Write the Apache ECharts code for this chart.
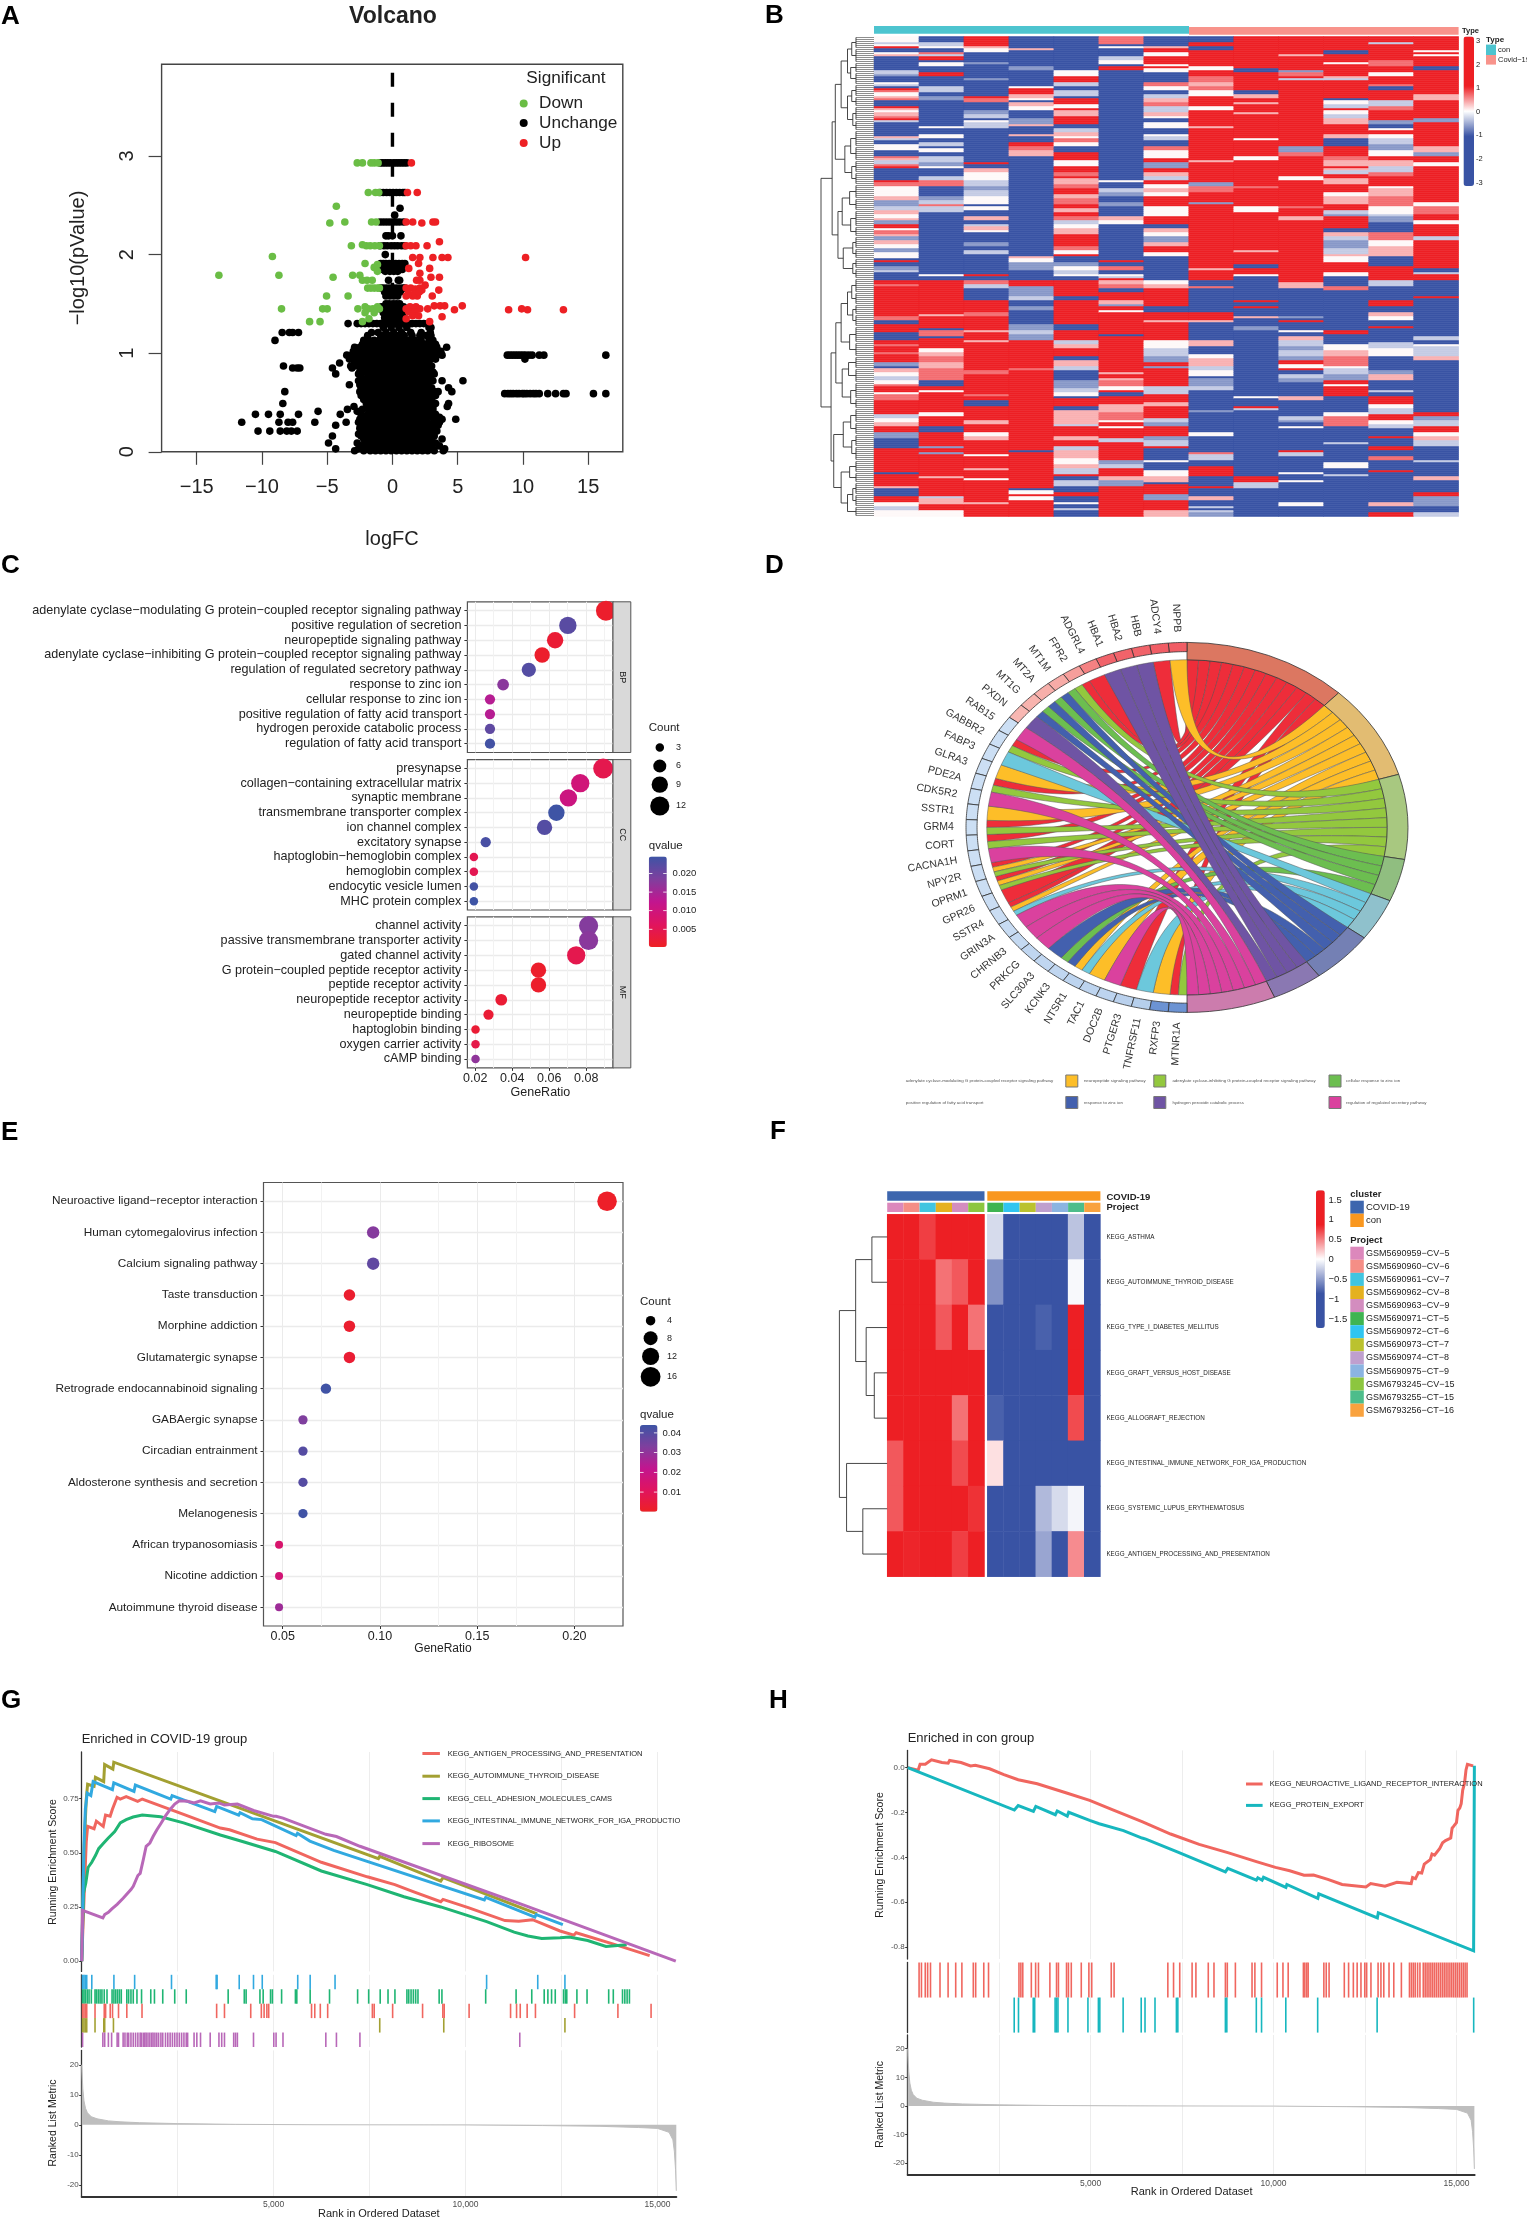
<!DOCTYPE html>
<html>
<head>
<meta charset="utf-8">
<title>Multi-panel figure</title>
<script src="https://cdn.jsdelivr.net/npm/echarts@6/dist/echarts.min.js"></script>
<style>html,body{margin:0;padding:0;background:#fff}#chart{width:1527px;height:2219px}</style>
</head>
<body>
<div id="chart"></div>
<script>
/* ---------------------------- A: volcano ---------------------------- */
var volcanoDown = [[-2.7,2.93],[-2.3,2.93],[-1.65,2.93],[-1.4,2.93],[-1.1,2.93],[-1.85,2.63],[-1.3,2.63],[-1.05,2.63],[-4.3,2.49],[-4.8,2.32],[-3.65,2.33],[-1.6,2.33],[-1.25,2.33],[-3.15,2.09],[-2.3,2.1],[-2,2.09],[-1.7,2.09],[-1.35,2.09],[-1,2.09],[-9.2,1.98],[-2.1,1.91],[-1.15,1.9],[-1.4,1.87],[-1.15,1.83],[-13.3,1.79],[-8.7,1.79],[-4.55,1.77],[-3.05,1.79],[-2.5,1.79],[-2.3,1.74],[-1.95,1.74],[-1.55,1.74],[-1.9,1.66],[-1.65,1.66],[-1.4,1.66],[-1.15,1.66],[-1,1.66],[-5.05,1.58],[-3.4,1.58],[-8.5,1.45],[-5.35,1.45],[-5,1.45],[-2.65,1.45],[-2.1,1.47],[-1.85,1.45],[-1.5,1.45],[-1.15,1.47],[-1,1.45],[-2.1,1.41],[-1.4,1.41],[-6.35,1.32],[-5.55,1.32],[-2.3,1.32],[-1.8,1.35]];
var volcanoUp = [[1.45,2.93],[1.15,2.63],[1.9,2.63],[1.05,2.33],[1.55,2.33],[2.25,2.32],[3.1,2.33],[3.3,2.33],[1.05,2.09],[1.4,2.09],[1.8,2.09],[2.65,2.09],[3.6,2.13],[1.55,1.97],[2.1,1.97],[3.1,1.97],[3.8,1.97],[4.25,1.97],[10.2,1.97],[2,1.91],[1.25,1.86],[2.85,1.86],[2.1,1.81],[2.95,1.77],[3.6,1.77],[1.85,1.74],[2.1,1.74],[1.05,1.66],[1.4,1.66],[1.75,1.65],[2.1,1.66],[2.25,1.64],[2.5,1.69],[3.55,1.64],[1.05,1.58],[1.55,1.58],[1.9,1.58],[3.05,1.58],[1.2,1.6],[1.7,1.61],[2.05,1.62],[1.05,1.45],[1.35,1.47],[1.55,1.45],[1.8,1.47],[2.1,1.45],[2.7,1.45],[3.2,1.48],[3.65,1.48],[4,1.48],[4.75,1.44],[5.35,1.48],[8.9,1.44],[9.9,1.45],[10.35,1.44],[13.1,1.44],[1.25,1.42],[1.7,1.42],[1.05,1.35],[1.55,1.38],[2,1.38],[2.85,1.32],[3.8,1.37]];
// each row: pValue level followed by the logFC readings on that level
var volcanoRows = [
[2.93,-.95,-.75,-.55,-.35,-.15,.1,.3,.5,.7,.9,1.1],[2.63,-.95,-.7,-.45,-.2,.05,.3,.55,.8,.95],[2.47,.58],[2.4,.17],
[2.33,-.95,-.7,-.45,-.2,.05,.3,.55,.85],[2.19,-.5,-.3,0,.65],[2.09,-.95,-.65,-.4,-.1,.15,.4,.7,.95],[2,-.55],
[1.91,-.9,-.7,-.5,-.25,0,.25,.5,.75,.95],[1.88,-.85,-.6,-.35,-.1,.15,.4,.65,.85],[1.85,-.75,-.5,-.25,0,.3,.55,.75],[1.83,-.55,-.2,.1,.4],
[1.74,-.3,.45,.55],[1.66,-.9,-.7,-.45,-.2,.05,.3,.55,.8,.95],[1.62,-.6,-.3,0,.3,.6],[1.58,-.5,-.2,.1,.4],[1.5,-.5,-.25,.05,.3,.55],
[1.47,-.85,-.6,-.35,-.1,.15,.4,.65,.85],[1.45,-.95,-.7,-.45,-.2,.05,.3,.55,.8],[1.41,-.7,-.4,-.1,.2,.5,.75],[1.36,-.6,-.2,.15,.5,.9],
[1.3,-3.4,-2.7,-2.4,-2.1,-1.8,-1.5,-1.2,-.9,-.6,-.3,0,.3,.6,.9,1.2,1.5,1.8,2.1,2.4,2.75],[1.26,-.7,-.1,.5,1.1,2.8,2.95],
[1.21,-8.45,-7.9,-7.65,-7.2,-1.6,-1.1,-.5,.1,.7,1.4,2.2,2.9],[1.18,-1.9,-.9,-.6,-.3,0,.3,.6,.9,1.5,2.1,2.6,2.95],
[1.13,-9,-2.2,-1.8,-1.4,-1,-.6,-.2,.2,.7,1.2,1.7,2.2,2.8,3.1],[1.09,-2.3,-1.9,-1.5,-1.1,-.6,-.1,.4,.9,1.4,1.9,2.4,2.9,3.3],
[1.06,-2.9,-2.5,-2.1,-1.7,-1.3,-.9,-.4,.1,.6,1.1,1.6,2.1,2.6,3,3.4,4.15],[1.02,-3,-2.6,-2.2,-1.7,-1.2,-.7,-.2,.3,.8,1.3,1.8,2.3,2.8,3.2,3.7],
[.98,-3.5,-3.1,-2.6,-2.2,-1.8,-1.4,-1,-.6,-.2,.2,.6,1,1.4,1.8,2.2,2.6,3,3.4,3.8,8.8,9,9.2,9.4,9.6,9.8,10,10.2,10.45,10.7,11.25,11.6,16.35],
[.94,-3.3,-2.8,-2.4,-1.9,-1.5,-1.1,-.7,-.3,.1,.5,.9,1.3,1.7,2.1,2.5,2.9,3.3,10.15],[.9,-4.05,-2.9,-2.4,-2,-1.6,-1.2,-.8,-.4,0,.4,.8,1.2,1.6,2,2.4,2.8],
[.87,-8.35,-3.2,-2.7,-2.1,-1.7,-1.3,-.9,-.5,-.1,.3,.7,1.1,1.5,1.9,2.3,2.7,3],[.85,-7.65,-7.3,-7.1,-4.6,-3.1,-2.4,-1.9,-1.4,-.9,-.4,.1,.6,1.1,1.6,2.1,2.6],
[.81,-2.5,-2.1,-1.8,-1.4,-1,-.6,-.2,.2,.6,1,1.4,1.8,2.2,2.7,3.1],[.79,-4.35,-2.6,-1.6,-.8,0,.8,1.6,2.4,3.2],[.76,-2.4,-1.9,-1.5,-1.1,-.7,-.3,.1,.5,.9,1.3,1.7,2.1,2.5,2.9],
[.72,-2.6,-2.2,-1.7,-1.3,-.9,-.5,-.1,.3,.7,1.1,1.5,1.9,2.3,2.8,3.1,3.8,5.4],[.68,-3.3,-2.5,-2,-1.6,-1.2,-.8,-.4,0,.4,.8,1.2,1.6,2,2.4,2.7],
[.65,-2.4,-1.8,-1.4,-1,-.6,-.2,.2,.6,1,1.4,1.8,2.2,2.6,3,4.3],[.61,-8.25,-2.5,-2.1,-1.7,-1.3,-.9,-.5,-.1,.3,.7,1.1,1.5,1.9,2.3,2.7,3.2,3.5,4.55],
[.59,8.6,8.85,9.05,9.25,9.5,9.7,9.95,10.1,10.3,10.55,10.8,11,11.25,11.9,12.5,13.1,13.3,15.4,16.35],[.57,-2.4,-1.9,-1.5,-1.1,-.7,-.3,.1,.5,.9,1.3,1.7,2.1,2.5,2.8,3.3],
[.53,-2.2,-1.8,-1.4,-1,-.6,-.2,.2,.6,1,1.4,1.8,2.2,2.6,3],[.49,-8.4,-2,-1.6,-1.2,-.8,-.4,0,.4,.8,1.2,1.6,2,2.4,2.9,3.3,4.3],[.46,-2.95,-1.9,-1.5,-1.1,-.7,-.3,.1,.5,.9,1.3,1.7,2.1,2.6,3.1,4.2],
[.43,-3.45,-2.3,-1.8,-1.4,-1,-.6,-.2,.2,.6,1,1.4,1.8,2.2,2.7,3.1],[.41,-5.7,-2.7,-1.7,-1.2,-.8,-.4,0,.4,.8,1.2,1.6,2,2.5,3],
[.38,-10.5,-9.5,-8.6,-7.2,-4,-2.4,-1.9,-1.5,-1.1,-.7,-.3,.1,.5,.9,1.3,1.7,2.1,2.5,2.9,3.3],[.35,-2.2,-1.8,-1.4,-1,-.6,-.2,.2,.6,1,1.4,1.8,2.2,2.6,3.1,3.6],
[.33,-2.5,-1.9,-1.5,-1.1,-.7,-.3,.1,.5,.9,1.3,1.7,2.1,2.5,3.2,3.8,4.85],[.3,-11.55,-8.7,-8,-7.65,-5.95,-3.55,-2.6,-2.1,-1.7,-1.3,-.9,-.5,-.1,.3,.7,1.1,1.5,1.9,2.3,2.7,3.2,3.6],
[.27,-4.35,-2.3,-1.9,-1.4,-1,-.6,-.2,.2,.6,1,1.4,1.8,2.2,2.6,3,3.5],[.24,-2.5,-2,-1.6,-1.2,-.8,-.4,0,.4,.8,1.2,1.6,2,2.4,2.8,3.3],
[.21,-10.3,-9.4,-8.6,-8.1,-7.75,-7.3,-2.4,-1.9,-1.5,-1.1,-.7,-.3,.1,.5,.9,1.3,1.7,2.1,2.5,2.9,3.4],[.18,-2.6,-2.1,-1.7,-1.3,-.9,-.5,-.1,.3,.7,1.1,1.5,1.9,2.3,2.7,3],
[.16,-4.6,-2.4,-1.9,-1.4,-1,-.6,-.2,.2,.6,1,1.4,1.8,2.2,2.7,3.2],[.13,-2.2,-1.8,-1.4,-1,-.6,-.2,.2,.6,1,1.4,1.8,2.2,2.6,3,3.8],
[.09,-4.9,-2.7,-2.1,-1.7,-1.3,-.9,-.5,-.1,.3,.7,1.1,1.5,1.9,2.3,2.8,3.3],[.06,-2.4,-1.9,-1.5,-1.1,-.7,-.3,.1,.5,.9,1.3,1.7,2.1,2.5,2.9,3.6],
[.03,-4.35,-2.6,-2,-1.6,-1.2,-.8,-.4,0,.4,.8,1.2,1.6,2,2.4,2.9,3.1,4],[.01,-2.9,-2.2,-1.7,-1.3,-.9,-.5,-.1,.3,.7,1.1,1.5,1.9,2.3,2.7,3.2,3.9]
];
var volcanoLine = [[0,0],[0,3.87]];
var volcanoXTicks = [-15,-10,-5,0,5,10,15];
var volcanoYTicks = [0,1,2,3];

/* ---------------------------- B: gene heatmap ---------------------------- */
// one string per sample, runs written as <end of run><level>. L/M/B are blues, W white, P/S/R reds
var heatLevels = {B:-2,M:-.6,L:-.3,W:.03,P:.35,S:.65,R:2};
var heatUpper = [
"5W 12L 15W 22R 35B 38R 44W 50P 90B 100L 110M 128B 134W 140L 145B 150R 158S 165W 172P 180S 195B 202R 210P 218W 225P 235S 242R 248L 285B 292P 300L 312B 328W 345B 352S 360P 370L 378S 385R 420B 428R 440S 470W 480P 495M 510L 520P 532W 540P 550M 565R 572W 580S 590P 600M 612P 625W 635M 652W 660B 668R 680B 690M 698L 718B 733R 737S 825R 840S 850B 878R 900B 912R 920S 935R 940S 965R 975M 985B 995P 1005W 1020L 1030W 1040S 1050R 1056W 1080R",
"5B 8R 15L 22W 35B 42S 50L 57R 68B 78W 95B 110R 140B 155L 170B 178M 258B 262W 282B 295W 305B 315L 322B 333W 345B 365L 378M 383W 405B 420L 437S 470B 482M 490L 500S 515L 700B 706W 718B 820R 825P 862R 870B 885S 892B 925R 935W 950P 965S 985P 1018S 1035B 1050R 1058W 1080R",
"15R 25P 35W 65B 70M 112B 118M 165B 172R 185S 212B 222M 232L 242B 248W 262L 365B 372R 385B 395P 405W 410P 420W 440L 450M 470L 490W 500B 512W 528B 540P 550B 558L 568P 578W 608B 615M 628B 640L 700B 707R 718B 730S 745L 778B 815R 825S 868R 875P 900R 907P 990R 1000S 1005R 1010S 1080R",
"25B 32P 80B 88M 138B 145W 160R 172P 180W 188B 200P 210W 235B 250M 258P 280B 287P 305B 318R 330S 345P 645B 655P 665W 690M 718B 735R 770M 780L 800B 810M 850B 870M 880L 900M 945R 950S 985R 992S 1080R",
"90B 105W 125R 135L 140W 150B 165L 175B 190R 205W 212R 225P 250R 262B 275L 285P 295W 305S 318W 335B 358R 375W 395R 405S 415R 430P 445S 460R 475P 490S 505R 515P 530R 540S 552L 565W 580P 615R 628S 640W 650R 665B 680M 690W 700L 708W 718B 770R 778B 850R 870B 900R 912L 925P 945R 960B 975P 990L 1020B 1045M 1060L 1070B 1080S",
"10S 18B 25W 45B 58L 70W 80B 88R 420B 428W 445B 458L 470M 485B 495M 525B 540P 550W 660B 668R 680B 688S 700B 708W 715L 722R 730P 745S 755B 782R 790P 800M 808R 815W 880R 886B 945R 950M 993R 1000P 1012R 1022P 1035S 1052W 1065R 1080B",
"15B 25P 35R 45W 70R 76W 85R 95W 125B 138S 150W 162B 175L 188P 200S 215L 225P 235W 248B 262W 280B 290W 300L 318B 332S 352W 368R 385M 398R 405P 420L 432R 445W 458P 470W 495R 530W 550R 562B 575P 590W 605M 620P 638R 650W 718B 732W 745P 795R 815B 838R 848P 900R 925W 950L 965M 975R 985M 1040R 1052L 1062R 1080P",
"5B 20R 28B 80R 90W 108R 125S 140P 150S 165W 200R 212W 260R 266P 360R 366P 425R 440M 455S 485R 492M 685R 692P 718R 735B 742S 815B 838R 848P 902B 915P 940B 955W 975P 990L 1005W 1015B 1040M 1060L 1080B",
"15R 20P 82R 86W 98B 150R 160B 172P 185R 190P 215R 222P 262R 265S 292R 298W 347R 358W 405R 410S 438R 443S 500R 515W 632R 638P 670R 682B 703R 708W 780B 785R 800B 806R 825B 835P 860B 870M 1068B 1075W 1080B",
"40R 50P 90R 98M 105S 112R 122L 135R 140P 285R 290S 318R 335M 350S 405R 418W 495R 503S 530R 540P 728R 745P 825B 832M 840B 845R 870B 878W 890B 902P 915L 930M 945L 960M 970R 982W 990R 1000B 1012L 1025M 1065B 1080W",
"28R 40B 65R 72W 105R 112P 120L 175R 180B 192W 205L 212R 220W 235L 250P 282R 295P 318B 345R 360S 375P 385R 392P 400L 415R 430P 455R 470W 490P 510R 520L 530M 565R 575B 588P 600L 625M 640L 650P 665W 695R 708W 740B 748S 870B 880R 910B 930W 945P 975S 985W 1000L 1020M 1030R 1040W 1065R 1080B",
"5R 12L 60R 75S 98R 110W 130R 140S 152B 180R 195L 210S 238R 250M 262B 272W 282R 295W 310L 330M 345W 360R 378P 395L 410S 435R 445W 470P 495S 520W 530L 545M 575B 600S 620W 650P 680B 722R 735L 765B 770R 780B 798R 815B 830P 840W 855B 862R 905B 925L 945W 990B 1000M 1018P 1080B",
"28R 35W 42R 50W 80R 88B 160R 178P 235R 245M 315R 335P 345M 368R 375W 485R 498W 520S 540R 550W 590R 600L 682R 695B 702L 718R 770B 775R 890B 900L 910B 920W 945L 960P 1080B"
];
var heatLower = [
"8R 12W 28S 70R 82L 95W 105P 128R 145M 175B 245R 252B 285R 292P 315B 335R 345W 362L 378W",
"5W 45R 50P 68R 78W 105R 128B 165R 172M 185R 190M 258R 262P 315R 322L 342P 360R 378W",
"12R 18S 28R 45B 88R 100P 125R 140W 150P 190R 198W 235R 240P 262R 268W 285R 290S 335R 340P 378R",
"180R 186B 292R 300B 310W 320R 328W 378R",
"5L 15W 25B 50R 60B 100P 108L 135R 150P 165R 180L 205P 220W 235P 250L 260R 272B 288L 305B 318R 338B 344W 356B 362L 378B",
"5R 18B 40R 65P 90S 95W 108R 115W 145R 155L 208R 222M 235L 255R 270P 285M 378R",
"12L 38R 50P 85R 95L 105M 135R 150M 165L 175R 208B 215W 240B 258W 275P 282B 310R 330M 360R 378P",
"62B 68M 105B 110W 128B 135W 185B 192S 210L 230B 258R 285B 295R 318B 330P 345B 352L 358B 365L 378M",
"20B 25W 48B 54R 58L 258B 275R 295L 378B",
"15B 30P 80B 88L 95M 105B 112W 178B 188R 195L 245B 252W 272B 278W 335B 345W 378B",
"15R 68B 78W 105S 155B 162L 218B 232W 250B 258L 378B",
"8L 20B 40R 55W 70L 90R 103W 115L 140B 145R 165B 178R 195B 208S 240B 248R 335B 350P 368B 378R",
"65B 75R 90M 110L 125R 138W 150P 170L 210B 215L 260B 272P 305B 320R 345M 365B 378L"
];
// dendrogram merges: [height, childA, childB]; a bare number is a cluster of that many rows
var heatTree = [1,
 [.79,[.73,[.62,[.5,[.42,6,7],[.44,5,6]],[.5,[.42,6,5],[.4,7,5]]],[.55,[.44,8,7],[.42,6,6]]],[.68,[.6,[.46,7,6],[.44,8,5]],[.58,[.4,6,5],[.4,5,5]]]],
 [.81,[.72,[.62,[.5,[.42,7,6],[.4,5,6]],[.46,8,7]],[.6,[.48,6,7],[.44,8,5]]],[.76,[.58,[.44,7,6],[.42,6,7]],[.62,[.46,6,5],[.5,[.4,6,6],5]]]]
];

/* ---------------------------- C: GO dot plot ---------------------------- */
var goFacets = ['BP','CC','MF'];
var goTerms = [
 ['adenylate cyclase\u2212modulating G protein\u2212coupled receptor signaling pathway','positive regulation of secretion','neuropeptide signaling pathway','adenylate cyclase\u2212inhibiting G protein\u2212coupled receptor signaling pathway','regulation of regulated secretory pathway','response to zinc ion','cellular response to zinc ion','positive regulation of fatty acid transport','hydrogen peroxide catabolic process','regulation of fatty acid transport'],
 ['presynapse','collagen\u2212containing extracellular matrix','synaptic membrane','transmembrane transporter complex','ion channel complex','excitatory synapse','haptoglobin\u2212hemoglobin complex','hemoglobin complex','endocytic vesicle lumen','MHC protein complex'],
 ['channel activity','passive transmembrane transporter activity','gated channel activity','G protein\u2212coupled peptide receptor activity','peptide receptor activity','neuropeptide receptor activity','neuropeptide binding','haptoglobin binding','oxygen carrier activity','cAMP binding']
];
var goRatio = [[.0907,.0701,.0632,.0562,.049,.0351,.028,.028,.028,.028],[.0892,.0768,.0704,.0639,.0575,.0257,.0193,.0193,.0193,.0193],[.0813,.0813,.0746,.0542,.0542,.0341,.0272,.0202,.0202,.0202]];
var goQvalue = [[.001,.022,.002,.001,.0225,.0175,.0135,.0135,.0215,.024],[.0045,.0095,.0105,.0245,.0225,.0235,.005,.005,.024,.0245],[.018,.0175,.0045,.001,.001,.002,.002,.002,.004,.017]];
var goCount = [[13,10,9,8,7,5,4,4,4,4],[13,11,10,9,8,4,3,3,3,3],[12,12,11,8,8,5,4,3,3,3]];
var goXTicks = [.02,.04,.06,.08];
var goXMinor = [.03,.05,.07,.09];
var goCountLegend = [3,6,9,12];
var goQTicks = [.02,.015,.01,.005];

/* ---------------------------- D: GO chord ---------------------------- */
var chordGenes = ['NPPB','ADCY4','HBB','HBA2','HBA1','ADGRL4','FPR2','MT1M','MT2A','MT1G','PXDN','RAB15','GABBR2','FABP3','GLRA3','PDE2A','CDK5R2','SSTR1','GRM4','CORT','CACNA1H','NPY2R','OPRM1','GPR26','SSTR4','GRIN3A','CHRNB3','PRKCG','SLC30A3','KCNK3','NTSR1','TAC1','DOC2B','PTGER3','TNFRSF11','RXFP3','MTNR1A'];
var chordLogFC = [3.5,3.5,3.4,3.4,3.4,2.9,2.3,2,1.9,1.8,1.7,-1.2,-1.2,-1.2,-1.2,-1.2,-1.2,-1.2,-1.2,-1.2,-1.2,-1.25,-1.25,-1.3,-1.3,-1.4,-1.5,-1.6,-1.6,-1.6,-1.7,-1.7,-1.7,-1.8,-1.9,-3.7,-3.7];
var chordTerms = ['adenylate cyclase-modulating G protein-coupled receptor signaling pathway','neuropeptide signaling pathway','adenylate cyclase-inhibiting G protein-coupled receptor signaling pathway','cellular response to zinc ion','positive regulation of fatty acid transport','response to zinc ion','hydrogen peroxide catabolic process','regulation of regulated secretory pathway'];
var chordTermGenes = [
 ['ADCY4','ADGRL4','FPR2','GABBR2','PDE2A','GRM4','CORT','NPY2R','OPRM1','GPR26','SSTR4','PTGER3','MTNR1A'],
 ['NPPB','GLRA3','SSTR1','NPY2R','OPRM1','SSTR4','NTSR1','TAC1','RXFP3'],
 ['FPR2','GABBR2','PDE2A','GRM4','CORT','NPY2R','OPRM1','MTNR1A'],
 ['MT1M','MT2A','MT1G','KCNK3'],
 ['FABP3','SSTR4','NTSR1','TNFRSF11'],
 ['MT1M','MT2A','MT1G','SLC30A3','KCNK3'],
 ['HBB','HBA2','HBA1','PXDN'],
 ['RAB15','CDK5R2','CACNA1H','GRIN3A','CHRNB3','PRKCG','DOC2B']
];

/* ---------------------------- E: KEGG dot plot ---------------------------- */
var keggTerms = ['Neuroactive ligand\u2212receptor interaction','Human cytomegalovirus infection','Calcium signaling pathway','Taste transduction','Morphine addiction','Glutamatergic synapse','Retrograde endocannabinoid signaling','GABAergic synapse','Circadian entrainment','Aldosterone synthesis and secretion','Melanogenesis','African trypanosomiasis','Nicotine addiction','Autoimmune thyroid disease'];
var keggRatio = [.2168,.0965,.0965,.0843,.0843,.0843,.0722,.0604,.0604,.0604,.0604,.0481,.0481,.0481];
var keggQvalue = [.001,.032,.038,.002,.002,.003,.0435,.033,.04,.04,.0435,.014,.016,.028];
var keggCount = [18,8,8,7,7,7,6,5,5,5,5,4,4,4];
var keggXTicks = [.05,.1,.15,.2];
var keggXMinor = [.075,.125,.175];
var keggCountLegend = [4,8,12,16];
var keggQTicks = [.04,.03,.02,.01];

/* ---------------------------- F: GSVA heatmap ---------------------------- */
var gsvaPathways = ['KEGG_ASTHMA','KEGG_AUTOIMMUNE_THYROID_DISEASE','KEGG_TYPE_I_DIABETES_MELLITUS','KEGG_GRAFT_VERSUS_HOST_DISEASE','KEGG_ALLOGRAFT_REJECTION','KEGG_INTESTINAL_IMMUNE_NETWORK_FOR_IGA_PRODUCTION','KEGG_SYSTEMIC_LUPUS_ERYTHEMATOSUS','KEGG_ANTIGEN_PROCESSING_AND_PRESENTATION'];
var gsvaCovid = [[1.5,1.5,.75,.9,1.5,1.5],[1.5,1.5,1,.55,.65,1.5],[1.5,1.5,1.5,.65,1.2,.55],[1.5,1.5,1.5,1.5,1.1,1.5],[1.5,1.5,1.5,1.5,.55,1.5],[.65,1.5,1.5,1.5,.7,1.5],[.65,1.1,1.5,1.5,1.1,.8],[1.5,.85,1.05,1.5,.75,1.5]];
var gsvaCon = [[-.18,-1.5,-1.5,-1.5,-1.5,-.3,-1.5],[-.55,-1.5,-1.5,-1.5,-1.5,-.03,-1.5],[-1.5,-1,-1.5,-.8,-1.5,1,-1.5],[-1,-1.5,-1.5,-1.5,-1.5,1.5,-1.5],[-.8,-1.5,-1.5,-1.5,-1.5,.7,-1.5],[.12,-1.5,-1.1,-1.2,-1.5,-1.5,-1.5],[-1.5,-1.5,-1.5,-.35,-.18,-.05,-1.5],[-1.5,-1.2,-1.5,-.45,-1.5,.45,-1.5]];
var gsvaTree = [1,[.66,[.32,1,1],[.44,1,[.27,1,1]]],[.85,1,[.51,1,1]]];
var gsvaProjects = ['GSM5690959\u2212CV\u22125','GSM5690960\u2212CV\u22126','GSM5690961\u2212CV\u22127','GSM5690962\u2212CV\u22128','GSM5690963\u2212CV\u22129','GSM5690971\u2212CT\u22125','GSM5690972\u2212CT\u22126','GSM5690973\u2212CT\u22127','GSM5690974\u2212CT\u22128','GSM5690975\u2212CT\u22129','GSM6793245\u2212CV\u221215','GSM6793255\u2212CT\u221215','GSM6793256\u2212CT\u221216'];
var gsvaProjectColors = ['#DC88BC','#F58E86','#41C5E0','#E5B120','#D38DBF','#3FB451','#30C5F0','#BBC22E','#BF9FCE','#8BB4E1','#8CC63F','#4DBD8B','#F9A23E'];
var gsvaCovidOrder = [0,1,2,3,4,10];
var gsvaConOrder = [5,6,7,8,9,11,12];
var gsvaTicks = [1.5,1,.5,0,-.5,-1,-1.5];

/* ---------------------------- G: GSEA COVID-19 ---------------------------- */
var gseaRed = [[1,0],[60,.282],[120,.551],[155,.622],[323,.611],[383,.646],[562,.622],[622,.674],[742,.669],[801,.701],[921,.756],[1005,.748],[1160,.759],[1459,.737],[1579,.748],[2655,.677],[3612,.614],[3851,.606],[4569,.563],[5047,.547],[6243,.456],[7439,.389],[8157,.353],[8635,.321],[9353,.274],[9413,.285],[10070,.247],[11027,.187],[11386,.184],[11745,.191],[12462,.139],[12821,.12],[12881,.131],[13897,.076],[14795,.025]];
var gseaOlive = [[1,0],[60,.503],[120,.748],[155,.816],[323,.807],[359,.848],[574,.828],[598,.907],[813,.886],[837,.918],[2655,.801],[5047,.646],[7730,.473],[7764,.483],[9353,.369],[9413,.385],[11864,.218]];
var gseaBlue = [[1,0],[60,.535],[96,.701],[144,.775],[239,.764],[299,.828],[801,.791],[837,.823],[1363,.783],[1399,.812],[2320,.748],[2356,.764],[3468,.69],[3516,.714],[4090,.674],[4126,.685],[4449,.657],[4688,.653],[5585,.579],[5621,.59],[5944,.554],[5980,.563],[6566,.511],[6602,.519],[10489,.282],[10525,.294],[11805,.203],[11840,.215],[12534,.168]];
var gseaGreen = [[1,0],[48,.313],[108,.361],[167,.432],[263,.456],[359,.487],[443,.519],[562,.543],[682,.566],[861,.598],[1005,.638],[1160,.653],[1340,.665],[1579,.674],[2057,.666],[2655,.638],[3612,.582],[4210,.551],[5047,.506],[6243,.416],[7439,.353],[8396,.297],[9353,.25],[10549,.182],[11266,.134],[11625,.116],[11984,.104],[12462,.108],[12701,.111],[13180,.095],[13658,.068],[14197,.076]];
var gseaPurple = [[1,0],[24,.234],[552,.199],[600,.215],[696,.225],[780,.24],[924,.262],[960,.258],[1080,.29],[1128,.285],[1284,.33],[1344,.345],[1464,.395],[1524,.405],[1608,.47],[1680,.53],[1776,.545],[1860,.575],[1956,.605],[2064,.635],[2184,.67],[2304,.7],[2424,.725],[2544,.74],[2760,.738],[2928,.73],[3096,.74],[3348,.725],[3576,.73],[3720,.72],[4056,.725],[4476,.695],[5004,.668],[5064,.668],[5244,.66],[6360,.585],[6636,.575],[7248,.53],[11412,.265],[15476,0]];
var gseaHitsBlue = [24,60,96,132,264,840,1380,2340,3504,3528,4104,4476,4704,5628,5952,6600,10548,11880,12588];
var gseaHitsGreen = [24,60,96,144,192,252,348,384,432,480,528,588,660,792,840,888,936,984,1032,1176,1224,1284,1344,1440,1560,1800,1896,2112,2424,2724,3816,4236,4284,4644,4728,4920,4968,5208,5568,5604,5952,6456,7188,7476,7776,7980,8160,8472,8520,8580,8640,8700,8760,9312,9384,10524,11316,11724,12048,12144,12240,12336,12552,12600,12636,12900,13164,13728,13848,14088,14148,14208,14268];
var gseaHitsRed = [24,60,96,132,348,588,624,744,804,960,1176,1572,3516,3720,4404,4680,4752,4824,4872,5988,6072,6216,6408,7572,7620,8100,8880,9408,9444,10092,11172,11328,11424,11604,11820,12840,13968,14832];
var gseaHitsOlive = [24,60,96,132,348,576,600,828,7764,9432,12588];
var gseaHitsPurple = [24,552,600,696,780,924,960,1080,1128,1188,1224,1284,1344,1404,1464,1524,1560,1608,1644,1680,1728,1776,1824,1860,1908,1956,2004,2064,2112,2184,2244,2304,2364,2424,2484,2544,2604,2664,2724,2760,2928,3000,3096,3348,3576,3648,3720,3960,4008,4056,4476,5004,5064,5244,6360,6636,7248,11412];
var rankedMetric = [[1,20],[30,12],[60,8],[100,5.5],[150,4],[250,2.7],[400,2],[700,1.3],[1000,1],[1500,.7],[2500,.4],[4000,.15],[6000,.03],[7500,0],[10000,-.05],[12000,-.25],[13500,-.5],[14500,-.9],[15000,-1.2],[15300,-2.5],[15400,-5],[15440,-9],[15470,-15],[15489,-22]];
var gseaNamesG = ['KEGG_ANTIGEN_PROCESSING_AND_PRESENTATION','KEGG_AUTOIMMUNE_THYROID_DISEASE','KEGG_CELL_ADHESION_MOLECULES_CAMS','KEGG_INTESTINAL_IMMUNE_NETWORK_FOR_IGA_PRODUCTIO','KEGG_RIBOSOME'];

/* ---------------------------- H: GSEA con ---------------------------- */
var gseaNeuro = [[1,0],[286,-.011],[339,.015],[482,.015],[651,.035],[937,.023],[1107,.02],[1146,.032],[1458,.023],[1719,.008],[1849,.011],[2239,-.005],[2630,-.031],[3021,-.054],[3541,-.072],[4323,-.112],[4974,-.146],[5625,-.189],[6406,-.241],[7187,-.296],[7968,-.342],[8749,-.379],[9531,-.419],[10051,-.445],[10442,-.46],[10833,-.48],[11093,-.479],[11484,-.498],[11874,-.521],[12525,-.532],[12655,-.517],[13046,-.529],[13372,-.511],[13762,-.517],[13800,-.49],[13880,-.495],[13957,-.468],[14050,-.47],[14120,-.43],[14283,-.41],[14330,-.385],[14400,-.39],[14543,-.36],[14620,-.335],[14700,-.325],[14843,-.314],[14880,-.27],[14930,-.26],[14999,-.245],[15040,-.19],[15090,-.18],[15129,-.161],[15170,-.1],[15220,-.069],[15260,-.01],[15299,.015],[15455,.008]];
var gseaExport = [[1,0],[2916,-.189],[3021,-.169],[3437,-.195],[3502,-.173],[4036,-.21],[4088,-.193],[4362,-.216],[4401,-.199],[4974,-.235],[5234,-.25],[5273,-.242],[5898,-.281],[6406,-.314],[6510,-.319],[7369,-.376],[7421,-.373],[8684,-.465],[8749,-.449],[9531,-.502],[9570,-.491],[9687,-.502],[9726,-.489],[10338,-.534],[10364,-.521],[11210,-.583],[11236,-.563],[12838,-.67],[12864,-.647],[15468,-.817],[15489,.008]];
var gseaHitsNeuro = [312,377,481,546,624,884,1105,1313,1482,1794,1859,2080,2210,3042,3094,3146,3380,3497,3575,3887,4069,4121,4342,4394,4472,4745,4953,5031,5564,5642,7111,7267,7436,7774,7878,8216,8372,8684,8736,8957,9412,9490,9672,10101,10257,10400,10816,10855,10907,10946,11375,11440,11518,11934,12051,12181,12285,12389,12493,12545,12662,12857,12935,13013,13156,13286,13494,13715,13767,13819,13871,13936,14001,14092,14144,14196,14248,14300,14352,14404,14456,14508,14560,14612,14664,14716,14768,14820,14872,14924,14976,15028,15080,15132,15184,15236,15288];
var gseaHitsExport = [2912,3029,3432,3471,4030,4069,4108,4381,4927,5213,5252,5889,6383,6487,6760,7345,7384,8684,8723,9529,9672,10335,11206,12831,15470];
var gseaNamesH = ['KEGG_NEUROACTIVE_LIGAND_RECEPTOR_INTERACTION','KEGG_PROTEIN_EXPORT'];

/* ---------------------------- build ---------------------------- */
var FONT = 'Liberation Sans';
var INK = '#222';
var grids = [], xAxes = [], yAxes = [], series = [], visualMaps = [], shapes = [];

function txt(x, y, text, size, opt) {
  opt = opt || {};
  shapes.push({type:'text', x:x, y:y, rotation:opt.rotate || 0, silent:true, z:20, style:{text:text, fill:opt.color || INK, fontFamily:FONT, fontSize:size, fontWeight:opt.bold ? 'bold' : 'normal', align:opt.align || 'left', verticalAlign:'middle'}});
}
function rect(x, y, w, h, color, stroke) {
  shapes.push({type:'rect', silent:true, z:18, shape:{x:x, y:y, width:w, height:h}, style:{fill:color, stroke:stroke || null, lineWidth:stroke ? 1 : 0}});
}
function dot(x, y, d, color) {
  shapes.push({type:'circle', silent:true, z:18, shape:{cx:x, cy:y, r:d / 2}, style:{fill:color}});
}
function axisOf(gridIndex, min, max, extra) {
  var base = {type:'value', gridIndex:gridIndex, min:min, max:max, axisLine:{show:false, onZero:false}, axisTick:{show:false}, axisLabel:{show:false}, splitLine:{show:false}};
  return Object.assign(base, extra || {});
}
function addGrid(l, t, r, b, xAxis, yAxis, frame) {
  var i = grids.length;
  var g = {left:l, top:t, width:r - l, height:b - t};
  if (frame) { g.show = true; g.borderColor = frame.color; g.borderWidth = frame.width; g.backgroundColor = 'transparent'; }
  grids.push(g);
  xAxis.gridIndex = i; yAxis.gridIndex = i;
  xAxes.push(xAxis); yAxes.push(yAxis);
  return i;
}
function plain(min, max, extra) { return axisOf(0, min, max, extra); }

function segmentItem(params, api) {
  var a = api.coord([api.value(0), api.value(1)]), b = api.coord([api.value(2), api.value(3)]);
  return {type:'line', shape:{x1:a[0], y1:a[1], x2:b[0], y2:b[1]}, style:{stroke:api.value(4) ? '#8e8e8e' : '#333', lineWidth:api.value(4) ? 1 : 0.9}};
}
function treeSegments(tree, leafHeight) {
  var segs = [], next = 0;
  function walk(node) {
    if (typeof node === 'number') {
      var start = next; next += node;
      for (var r = start; r < next; r++) { segs.push([leafHeight, r + .5, 0, r + .5, leafHeight ? 1 : 0]); }
      if (node > 1) { segs.push([leafHeight, start + .5, leafHeight, next - .5, 0]); }
      return {y:(start + next) / 2, h:leafHeight};
    }
    var a = walk(node[1]), b = walk(node[2]);
    segs.push([node[0], a.y, node[0], b.y, 0]);
    segs.push([node[0], a.y, a.h, a.y, 0]);
    segs.push([node[0], b.y, b.h, b.y, 0]);
    return {y:(a.y + b.y) / 2, h:node[0]};
  }
  walk(tree);
  return {segs:segs, rows:next};
}
function addTree(tree, leafHeight, l, t, r, b) {
  var built = treeSegments(tree, leafHeight);
  var g = addGrid(l, t, r, b, plain(0, 1, {inverse:true}), plain(0, built.rows, {inverse:true}));
  series.push({type:'custom', xAxisIndex:g, yAxisIndex:g, silent:true, clip:false, renderItem:segmentItem, encode:{x:[0, 2], y:[1, 3]}, data:built.segs});
}
function letter(x, y, s) { txt(x, y, s, 26, {bold:true, color:'#000'}); }

/* A */
letter(1, 17, 'A');
txt(393, 17, 'Volcano', 23, {bold:true, align:'center'});
(function () {
  var black = [];
  volcanoRows.forEach(function (row) { row.slice(1).forEach(function (x) { black.push([x, row[0]]); }); });
  var g = addGrid(161.6, 64.3, 622.8, 451.8,
    plain(-17.69, 17.65, {axisTick:{show:true, length:13, customValues:volcanoXTicks, lineStyle:{color:'#444', width:1.2}}, axisLabel:{show:true, customValues:volcanoXTicks, margin:26, fontSize:20, fontFamily:FONT, color:INK, formatter:function (v) { return String(v).replace('-', '\u2212'); }}}),
    plain(0, 3.93, {axisTick:{show:true, length:13, customValues:volcanoYTicks, lineStyle:{color:'#444', width:1.2}}, axisLabel:{show:true, customValues:volcanoYTicks, rotate:90, margin:24, fontSize:20, fontFamily:FONT, color:INK}}),
    {color:'#444', width:1.4});
  [[black, '#000'], [volcanoDown, '#6ABD45'], [volcanoUp, '#ED2024']].forEach(function (s) {
    series.push({type:'scatter', xAxisIndex:g, yAxisIndex:g, silent:true, symbol:'circle', symbolSize:7.6, itemStyle:{color:s[1], opacity:1}, data:s[0]});
  });
  series.push({type:'line', xAxisIndex:g, yAxisIndex:g, silent:true, symbol:'none', data:volcanoLine, lineStyle:{color:'#000', width:3.4, type:[14, 16], dashOffset:25}, z:5});
})();
txt(392, 539, 'logFC', 20, {align:'center'});
txt(78, 258, '\u2212log10(pValue)', 20, {align:'center', rotate:Math.PI / 2});
txt(566, 78, 'Significant', 17.2, {align:'center'});
[['Down', '#6ABD45', 103.6], ['Unchange', '#000', 123], ['Up', '#ED2024', 143]].forEach(function (it) {
  dot(523.7, it[2], 8, it[1]);
  txt(539, it[2], it[0], 17.2);
});

/* B */
letter(765, 16, 'B');
(function () {
  var HEAT_ROWS = 240, data = [];
  function runs(s) { return s.split(' ').map(function (t) { return [parseInt(t, 10), t.slice(-1)]; }); }
  function levelAt(list, y) {
    for (var i = 0; i < list.length; i++) { if (y < list[i][0]) { return list[i][1]; } }
    return list[list.length - 1][1];
  }
  heatUpper.forEach(function (s, c) {
    var up = runs(s), low = runs(heatLower[c]);
    for (var r = 0; r < HEAT_ROWS; r++) {
      var unit = r * 6;
      var lev = unit < 1060 ? levelAt(up, unit - 10) : levelAt(low, unit - 1060);
      data.push([c, r, heatLevels[lev]]);
    }
  });
  var cats = [], rows = [];
  for (var i = 0; i < heatUpper.length; i++) { cats.push(i); }
  for (var j = 0; j < HEAT_ROWS; j++) { rows.push(j); }
  var g = addGrid(874, 36.5, 1458.6, 516.5, {type:'category', data:cats, show:false}, {type:'category', data:rows, inverse:true, show:false});
  series.push({type:'heatmap', xAxisIndex:g, yAxisIndex:g, silent:true, progressive:0, data:data});
  visualMaps.push({type:'continuous', seriesIndex:series.length - 1, dimension:2, min:-3, max:3, left:1463.5, top:36.5, itemWidth:10.5, itemHeight:149.5, padding:0, calculable:false, hoverLink:false, inRange:{color:['#3953A4', '#3953A4', '#3953A4', '#FFFFFF', '#ED1F24', '#ED1F24', '#ED1F24']}});
  addTree(heatTree, .34, 821, 36.5, 874, 516.5);
})();
rect(874, 26, 315, 7.8, '#4DC4CF');
rect(1189, 27, 269.6, 7.8, '#F8938B');
txt(1462, 31, 'Type', 7.5, {bold:true});
[3, 2, 1, 0, -1, -2, -3].forEach(function (v, i) { txt(1476, 41 + i * 23.6, String(v), 7.5); });
txt(1486, 40, 'Type', 8, {bold:true});
rect(1486, 44.6, 10, 10.4, '#4DC4CF');
rect(1486, 55, 10, 9.6, '#F8938B');
txt(1498, 50, 'con', 7.5);
txt(1498, 60, 'Covid\u221219', 7.5);

/* dot plot helper for C and E */
var QCOLORS = ['#EE2024', '#E0145F', '#C2158F', '#7F3F9E', '#3D54A5'];
function qLegend(x, top, w, h, min, max, ticks, labelX, digits, seriesIdx) {
  visualMaps.push({type:'continuous', seriesIndex:seriesIdx, dimension:2, min:min, max:max, left:x, top:top, itemWidth:w, itemHeight:h, padding:0, calculable:false, hoverLink:false, inRange:{color:QCOLORS}});
  ticks.forEach(function (v) {
    var y = top + h * (max - v) / (max - min);
    rect(x, y - .4, 3.6, .8, '#fff');
    rect(x + w - 3.6, y - .4, 3.6, .8, '#fff');
    txt(labelX, y, v.toFixed(digits), 9.5);
  });
}
function addDots(l, t, r, b, xMin, xMax, xTicks, xMinor, names, ratio, q, count, showX, sizeOf, labelSize) {
  var rows = names.map(function (n, i) { return i; });
  var data = ratio.map(function (v, i) { return [v, i, q[i], count[i]]; });
  var g = addGrid(l, t, r, b,
    plain(xMin, xMax, {splitLine:{show:true, lineStyle:{color:'#EBEBEB', width:1}}, axisTick:{show:showX, length:3, customValues:xTicks, lineStyle:{color:'#333'}}, axisLabel:{show:showX, customValues:xTicks, margin:4, fontSize:12.5, fontFamily:FONT, color:INK, formatter:function (v) { return v.toFixed(2); }}}),
    plain(-.6, names.length - .4, {inverse:true, splitLine:{show:true, lineStyle:{color:'#EBEBEB', width:1.4}}, axisTick:{show:true, length:3, customValues:rows, lineStyle:{color:'#333'}}, axisLabel:{show:true, customValues:rows, margin:6, fontSize:labelSize, fontFamily:FONT, color:INK, formatter:function (v) { return names[v]; }}}),
    {color:'#555', width:1.2});
  series.push({type:'scatter', xAxisIndex:g, yAxisIndex:g, silent:true, z:4, symbol:'circle', itemStyle:{opacity:1}, symbolSize:function (v) { return sizeOf(v[3]); }, data:data,
    markLine:{silent:true, symbol:'none', z:1, label:{show:false}, lineStyle:{color:'#F2F2F2', width:1, type:'solid'}, data:xMinor.map(function (m) { return {xAxis:m}; })}});
  return series.length - 1;
}

/* C */
letter(1, 566, 'C');
function goSize(c) { return Math.sqrt(72 + 32.8 * (c - 3)); }
(function () {
  var tops = [[601.8, 752.5], [759.6, 910], [916.8, 1067.9]], ids = [];
  goFacets.forEach(function (f, k) {
    ids.push(addDots(467.4, tops[k][0], 613, tops[k][1], .0158, .0945, goXTicks, goXMinor, goTerms[k], goRatio[k], goQvalue[k], goCount[k], k === 2, goSize, 12.6));
    rect(613, tops[k][0], 17.8, tops[k][1] - tops[k][0], '#D9D9D9', '#555');
    txt(622, (tops[k][0] + tops[k][1]) / 2, f, 9, {align:'center', rotate:-Math.PI / 2});
  });
  qLegend(648.8, 856.4, 18, 90.7, .0002, .0246, goQTicks, 672.6, 3, ids);
})();
txt(540.4, 1092.9, 'GeneRatio', 12.5, {align:'center'});
txt(648.8, 728, 'Count', 11.5);
txt(648.8, 845.7, 'qvalue', 11.5);
goCountLegend.forEach(function (c, i) {
  var y = [747.5, 766, 784.6, 806][i];
  dot(659.8, y, goSize(c), '#000');
  txt(676, y, String(c), 9);
});

/* D */
letter(765, 566, 'D');
(function () {
  var GENE_DEG = 180 / chordGenes.length;
  var links = chordTermGenes.reduce(function (n, t) { return n + t.length; }, 0);
  var LINK_DEG = 180 / links;
  var INNER = .906;
  var RIBBON = ['#EE2D3A', '#FDBE28', '#93C83E', '#6CBE50', '#6CC8DC', '#4360AE', '#6F54A4', '#DA419E'];
  var RING = ['#DC7761', '#E2BC72', '#A8C880', '#90BE80', '#8FC1CC', '#7480B4', '#8A78B2', '#CC7CAD'];
  function pt(deg, r) { var a = deg * Math.PI / 180; return [r * Math.sin(a), r * Math.cos(a)]; }
  function band(api, a, b, r1, r2) {
    var pts = [], n = 8, i;
    for (i = 0; i <= n; i++) { pts.push(api.coord(pt(a + (b - a) * i / n, r2))); }
    for (i = n; i >= 0; i--) { pts.push(api.coord(pt(a + (b - a) * i / n, r1))); }
    return pts;
  }
  var termRing = [], ribbons = [], start = 0;
  function termsOf(gene) {
    var out = [];
    chordTermGenes.forEach(function (list, t) { if (list.indexOf(gene) >= 0) { out.push(t); } });
    return out;
  }
  chordTermGenes.forEach(function (list, t) {
    var order = list.map(function (g) { return chordGenes.indexOf(g); }).sort(function (a, b) { return a - b; });
    order.forEach(function (g, k) {
      var share = termsOf(chordGenes[g]), w = GENE_DEG / share.length, th = g * GENE_DEG + share.indexOf(t) * w;
      ribbons.push([t, 360 - th, 360 - th - w, start + k * LINK_DEG, start + (k + 1) * LINK_DEG]);
    });
    termRing.push([t, start, start + order.length * LINK_DEG]);
    start += order.length * LINK_DEG;
  });
  var g = addGrid(966, 642.4, 1408, 1012.4, plain(-1, 1), plain(-1, 1));
  function ribbonItem(params, api) {
    var t = api.value(0), a1 = api.value(1), a2 = api.value(2), b1 = api.value(3), b2 = api.value(4);
    var pts = [], i, n = 36, s;
    function curve(from, to) {
      var p = pt(from, INNER), q = pt(to, INNER);
      for (var k = 1; k < n; k++) {
        s = k / n;
        pts.push(api.coord([(1 - s) * (1 - s) * p[0] + s * s * q[0], (1 - s) * (1 - s) * p[1] + s * s * q[1]]));
      }
    }
    for (i = 0; i <= 4; i++) { pts.push(api.coord(pt(b1 + (b2 - b1) * i / 4, INNER))); }
    curve(b2, a2);
    for (i = 0; i <= 4; i++) { pts.push(api.coord(pt(a2 + (a1 - a2) * i / 4, INNER))); }
    curve(a1, b1);
    return {type:'polygon', shape:{points:pts}, style:{fill:RIBBON[t], stroke:'#555', lineWidth:.5}};
  }
  series.push({type:'custom', xAxisIndex:g, yAxisIndex:g, silent:true, clip:false, renderItem:ribbonItem, encode:{x:3, y:4}, data:ribbons});
  series.push({type:'custom', xAxisIndex:g, yAxisIndex:g, silent:true, clip:false, encode:{x:1, y:2}, data:termRing, renderItem:function (p, api) {
    return {type:'polygon', shape:{points:band(api, api.value(1), api.value(2), INNER, 1)}, style:{fill:RING[api.value(0)], stroke:'#333', lineWidth:.8}};
  }});
  series.push({type:'custom', xAxisIndex:g, yAxisIndex:g, silent:true, clip:false, encode:{x:1, y:1}, data:chordLogFC.map(function (v, i) { return [v, i]; }), renderItem:function (p, api) {
    var i = api.value(1), a = 360 - i * GENE_DEG, b = a - GENE_DEG;
    return {type:'polygon', shape:{points:band(api, a, b, .95, 1)}, style:{fill:api.visual('color'), stroke:'#333', lineWidth:.8}};
  }});
  visualMaps.push({type:'continuous', show:false, seriesIndex:series.length - 1, dimension:0, min:-4, max:4, inRange:{color:['#5E88CE', '#9DBBE3', '#C9DDF3', '#E6EEF9', '#F9C6BF', '#F58F8E', '#EE3F4C']}});
  series.push({type:'custom', xAxisIndex:g, yAxisIndex:g, silent:true, clip:false, encode:{x:0, y:0}, data:chordGenes.map(function (n, i) { return [i]; }), renderItem:function (p, api) {
    var i = api.value(0), th = (i + .5) * GENE_DEG, c = api.coord(pt(360 - th, 1.055));
    return {type:'text', x:c[0], y:c[1], rotation:(th - 90) * Math.PI / 180, style:{text:chordGenes[i], fontFamily:FONT, fontSize:10.5, fill:'#333', align:'right', verticalAlign:'middle'}};
  }});
  var cols = [[905.8, null], [1083.9, 1065.8], [1172.4, 1153.8], [1346, 1329]];
  chordTerms.forEach(function (name, i) {
    var col = cols[i % 4], y = i < 4 ? 1081 : 1102.5;
    if (col[1]) { rect(col[1], y - 6, 12, 12, RIBBON[i], '#777'); }
    txt(col[0], y, name, 4.4, {color:'#555'});
  });
})();

/* E */
letter(1, 1133, 'E');
function keggSize(c) { return Math.sqrt(64 + 22.6 * (c - 4)); }
(function () {
  var id = addDots(263.5, 1182.5, 623, 1626, .0401, .225, keggXTicks, keggXMinor, keggTerms, keggRatio, keggQvalue, keggCount, true, keggSize, 11.8);
  qLegend(640, 1425, 17.5, 86.8, 0, .044, keggQTicks, 662.5, 2, [id]);
})();
txt(443, 1649, 'GeneRatio', 12, {align:'center'});
txt(640, 1302, 'Count', 11.5);
txt(640, 1414.6, 'qvalue', 11.5);
keggCountLegend.forEach(function (c, i) {
  var y = [1320.7, 1338.2, 1356.4, 1376.8][i];
  dot(650.6, y, keggSize(c) + 1.5, '#000');
  txt(667, y, String(c), 9);
});

/* F */
letter(770, 1132, 'F');
(function () {
  var ids = [];
  function block(values, l, r) {
    var data = [], cats = [], rows = gsvaPathways.map(function (n, i) { return i; });
    values[0].forEach(function (v, c) { cats.push(c); });
    values.forEach(function (row, y) { row.forEach(function (v, c) { data.push([c, y, v]); }); });
    var g = addGrid(l, 1214.3, r, 1576.7, {type:'category', data:cats, show:false}, {type:'category', data:rows, inverse:true, show:false});
    series.push({type:'heatmap', xAxisIndex:g, yAxisIndex:g, silent:true, progressive:0, data:data});
    ids.push(series.length - 1);
  }
  block(gsvaCovid, 887.2, 984.5);
  block(gsvaCon, 987.3, 1100.4);
  visualMaps.push({type:'continuous', seriesIndex:ids, dimension:2, min:-1.745, max:1.745, left:1316, top:1190.3, itemWidth:8.8, itemHeight:137.7, padding:0, calculable:false, hoverLink:false, inRange:{color:['#3953A4', '#3953A4', '#3953A4', '#9CA8D2', '#FFFFFF', '#F68F92', '#ED1F24', '#ED1F24', '#ED1F24']}});
  addTree(gsvaTree, 0, 839.4, 1214.3, 887.2, 1576.7);
  rect(887.2, 1191.3, 97.3, 9.4, '#3D66AE');
  rect(987.3, 1191.3, 113.1, 9.4, '#F9971F');
  gsvaCovidOrder.forEach(function (p, i) { rect(887.2 + i * 16.2, 1202.7, 16.2, 9.3, gsvaProjectColors[p]); });
  gsvaConOrder.forEach(function (p, i) { rect(987.3 + i * 16.16, 1202.7, 16.16, 9.3, gsvaProjectColors[p]); });
  gsvaPathways.forEach(function (n, i) { txt(1106.4, 1214.3 + (i + .5) * 45.3, n, 6.3); });
  gsvaTicks.forEach(function (v, i) { txt(1328.5, 1200 + i * 19.83, String(v).replace('-', '\u2212'), 9.5); });
  gsvaProjects.forEach(function (n, i) {
    rect(1350.3, 1246.7 + i * 13.08, 13.5, 13.08, gsvaProjectColors[i]);
    txt(1366, 1253.3 + i * 13.08, n, 9);
  });
})();
txt(1106.4, 1197.7, 'COVID-19', 9.5, {bold:true});
txt(1106.4, 1207.7, 'Project', 9.5, {bold:true});
txt(1350.3, 1194, 'cluster', 9.5, {bold:true});
rect(1350.3, 1200.7, 13.5, 13, '#3D66AE');
rect(1350.3, 1213.7, 13.5, 13.3, '#F9971F');
txt(1366, 1207.2, 'COVID-19', 9.5);
txt(1366, 1220.4, 'con', 9.5);
txt(1350.3, 1240, 'Project', 9.5, {bold:true});

/* G and H */
function gseaPanel(p) {
  var gridV = {show:true, lineStyle:{color:'#EDEDED', width:1}};
  var rankTicks = [2500, 5000, 7500, 10000, 12500, 15000];
  var rankLabels = [5000, 10000, 15000];
  function leftAxis(min, max, ticks, fmt) {
    return plain(min, max, {axisLine:{show:true, onZero:false, lineStyle:{color:'#333', width:1.3}}, axisTick:{show:true, length:2.5, customValues:ticks, lineStyle:{color:'#333'}}, axisLabel:{show:true, customValues:ticks, margin:3, fontSize:8, fontFamily:FONT, color:'#4D4D4D', formatter:fmt}});
  }
  var g = addGrid(p.l, p.top[0], p.r, p.top[1],
    plain(1, p.maxRank, {splitLine:gridV, axisTick:{show:false, customValues:rankTicks}}),
    leftAxis(p.scoreMin, p.scoreMax, p.scoreTicks, function (v) { return v.toFixed(p.scoreDigits); }));
  p.curves.forEach(function (c) {
    series.push({type:'line', xAxisIndex:g, yAxisIndex:g, silent:true, symbol:'none', data:c[0], lineStyle:{color:c[1], width:3, join:'miter'}});
  });
  var rowCount = p.rugs.length;
  var rugH = (p.rug[1] - p.rug[0]) / rowCount;
  var g2 = addGrid(p.l, p.rug[0], p.r, p.rug[1],
    plain(1, p.maxRank, {splitLine:gridV, axisTick:{show:false, customValues:rankTicks}}),
    plain(0, rowCount, {inverse:true, axisLine:{show:true, onZero:false, lineStyle:{color:'#333', width:1.3}}}));
  p.rugs.forEach(function (rug, i) {
    series.push({type:'scatter', xAxisIndex:g2, yAxisIndex:g2, silent:true, symbol:'rect', symbolSize:[1.6, rugH], itemStyle:{color:rug[1], opacity:1}, data:rug[0].map(function (r) { return [r, i + .5]; })});
  });
  var g3 = addGrid(p.l, p.metric[0], p.r, p.metric[1],
    plain(1, p.maxRank, {splitLine:gridV, axisLine:{show:true, onZero:false, lineStyle:{color:'#333', width:2}}, axisTick:{show:false, customValues:rankTicks}, axisLabel:{show:true, customValues:rankLabels, margin:4, fontSize:8.5, fontFamily:FONT, color:'#4D4D4D'}}),
    leftAxis(p.metricMin, p.metricMax, [20, 10, 0, -10, -20], function (v) { return String(v); }));
  series.push({type:'line', xAxisIndex:g3, yAxisIndex:g3, silent:true, symbol:'none', data:rankedMetric, lineStyle:{color:'#BEBEBE', width:1}, areaStyle:{color:'#BEBEBE', opacity:1}});
  txt(p.l, p.titleY, p.title, 13);
  txt(p.ylabX, p.ylab1, 'Running Enrichment Score', 10.5, {align:'center', rotate:Math.PI / 2});
  txt(p.ylabX, p.ylab2, 'Ranked List Metric', 10.5, {align:'center', rotate:Math.PI / 2});
  txt(p.rankX, p.rankY, 'Rank in Ordered Dataset', 11, {align:'center'});
  p.legend.names.forEach(function (n, i) {
    var y = p.legend.ys[i];
    rect(p.legend.x, y - 1.5, p.legend.w, 3, p.curves[p.legend.order[i]][1]);
    txt(p.legend.tx, y, n, 7.5);
  });
}
letter(1, 1701, 'G');
gseaPanel({l:81.7, r:676.3, top:[1752, 1971.4], rug:[1974.8, 2047], metric:[2050.4, 2196.5], maxRank:15489,
  scoreMin:-.0475, scoreMax:.965, scoreTicks:[0, .25, .5, .75], scoreDigits:2, metricMin:-23.9, metricMax:24.8,
  curves:[[gseaRed, '#F0665F'], [gseaOlive, '#A3A032'], [gseaGreen, '#1FB573'], [gseaBlue, '#31A9E0'], [gseaPurple, '#B868B8']],
  rugs:[[gseaHitsBlue, '#31A9E0'], [gseaHitsGreen, '#1FB573'], [gseaHitsRed, '#F0665F'], [gseaHitsOlive, '#A3A032'], [gseaHitsPurple, '#B868B8']],
  title:'Enriched in COVID-19 group', titleY:1739.5, ylabX:52.8, ylab1:1862, ylab2:2123, rankX:378.8, rankY:2214,
  legend:{names:gseaNamesG, order:[0, 1, 2, 3, 4], ys:[1753.5, 1776.2, 1798.6, 1820.9, 1843.6], x:422.4, w:17.5, tx:447.7}});
letter(769, 1701, 'H');
gseaPanel({l:907.7, r:1474.6, top:[1750.4, 1959], rug:[1962.5, 2032.6], metric:[2035, 2174.8], maxRank:15495,
  scoreMin:-.8535, scoreMax:.077, scoreTicks:[0, -.2, -.4, -.6, -.8], scoreDigits:1, metricMin:-24.06, metricMax:24.8,
  curves:[[gseaNeuro, '#F0665F'], [gseaExport, '#17B7BF']],
  rugs:[[gseaHitsNeuro, '#F0665F'], [gseaHitsExport, '#17B7BF']],
  title:'Enriched in con group', titleY:1738.8, ylabX:880, ylab1:1855, ylab2:2104.4, rankX:1191.6, rankY:2192,
  legend:{names:gseaNamesH, order:[0, 1], ys:[1784, 1805.4], x:1246, w:16.6, tx:1269.8}});

var myChart = echarts.init(document.getElementById('chart'));
myChart.setOption({
  animation:false,
  backgroundColor:'#fff',
  textStyle:{fontFamily:FONT},
  tooltip:{show:false},
  grid:grids,
  xAxis:xAxes,
  yAxis:yAxes,
  visualMap:visualMaps,
  series:series,
  graphic:{elements:shapes}
});
</script>
</body>
</html>
